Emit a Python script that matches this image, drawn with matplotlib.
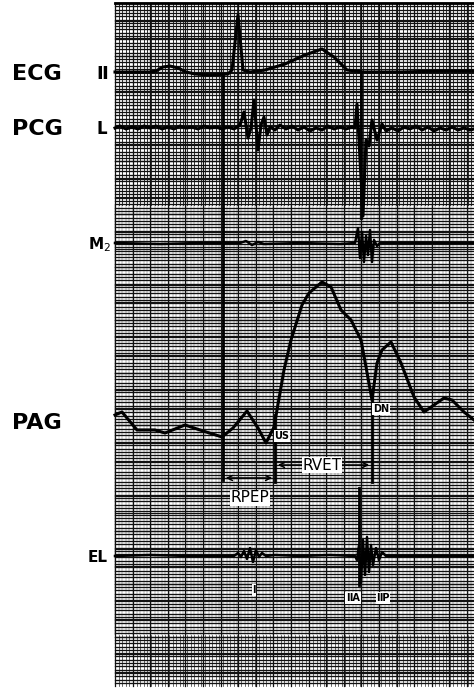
import numpy as np
import matplotlib
matplotlib.use("Agg")
import matplotlib.pyplot as plt

# traces (x = time position, y = deflection, picture units)
ecg_x = [115, 150, 156, 163, 170, 178, 186, 195, 210, 228, 232, 238, 243, 250, 265, 285, 305, 322, 334, 347, 364, 400, 440, 474]
ecg_y = [72, 72, 71, 67, 66, 68, 72, 74, 75, 74, 70, 15, 70, 72, 70, 64, 55, 49, 57, 70, 72, 72, 71, 71]

pcg_x = [115, 120, 126, 132, 138, 144, 150, 156, 162, 168, 174, 180, 186, 192, 198, 204, 210, 216,
         222, 228, 234, 240, 244, 248, 251, 254, 258, 261, 264, 267, 270, 275, 280, 286, 292, 298,
         304, 310, 316, 322, 328, 334, 340, 346, 352, 355, 357, 359, 363, 366, 369, 372, 377, 382,
         386, 392, 398, 404, 410, 416, 422, 428, 434, 440, 446, 452, 458, 464, 470, 474]
pcg_y = [128, 126, 129, 127, 129, 126, 128, 126, 129, 127, 129, 126, 128, 127, 129, 126, 128, 127,
         129, 127, 129, 125, 112, 138, 128, 100, 150, 125, 117, 135, 127, 130, 125, 129, 126, 130,
         127, 131, 128, 130, 126, 129, 127, 129, 127, 128, 104, 140, 216, 140, 146, 120, 140, 124,
         131, 128, 131, 127, 129, 126, 130, 127, 131, 128, 130, 127, 130, 128, 130, 129]

m2_x = [115, 160, 200, 240, 246, 252, 258, 264, 300, 340, 355, 358, 360, 362, 364, 366, 368, 370, 372, 374, 377, 380, 420, 474]
m2_y = [243, 244, 243, 243, 241, 245, 242, 244, 243, 244, 243, 228, 258, 232, 262, 236, 255, 230, 262, 240, 246, 243, 243, 243]

pag_x = [115, 122, 137, 155, 165, 185, 200, 222, 233, 247, 258, 266, 274, 284, 291, 302, 309, 322,
         331, 341, 351, 361, 366, 372, 377, 382, 391, 401, 414, 424, 434, 444, 452, 464, 474]
pag_y = [415, 412, 430, 430, 433, 425, 430, 437, 428, 411, 428, 443, 427, 370, 340, 305, 293, 282,
         287, 310, 320, 340, 367, 400, 363, 350, 342, 363, 397, 412, 405, 398, 400, 412, 420]

el_x = [115, 150, 190, 234, 238, 241, 244, 247, 250, 253, 256, 259, 262, 266, 275, 300, 330, 355,
        357, 359, 361, 363, 365, 367, 369, 371, 373, 376, 379, 382, 386, 420, 474]
el_y = [556, 555, 556, 556, 553, 557, 551, 559, 548, 562, 550, 557, 553, 556, 555, 556, 555, 556,
        560, 545, 583, 540, 575, 537, 572, 545, 565, 548, 560, 552, 556, 556, 556]

# timing markers: x, top, bottom
marker_x = [223, 275, 372, 361, 359]
marker_top = [74, 415, 398, 72, 488]
marker_bot = [480, 482, 482, 218, 585]

channel_names = ["ECG", "PCG", "M", "PAG", "EL"]

fig = plt.figure(figsize=(4.74, 6.88), dpi=100)
ax = fig.add_axes([0, 0, 1, 1])
ax.set_xlim(0, 474)
ax.set_ylim(688, 0)
ax.axis("off")

# chart paper
x0, x1, y0, y1 = 115, 474, 3, 686
ink = "#111111"
for y in np.arange(y0, y1, 3.3):
    ax.plot([x0, x1], [y, y], color=ink, lw=0.95, zorder=1)
for x in np.arange(x0, x1, 3.6):
    ax.plot([x, x], [y0, 205], color=ink, lw=0.6, zorder=1)
    ax.plot([x, x], [205, 635], color=ink, lw=0.22, zorder=1)
    ax.plot([x, x], [635, y1], color=ink, lw=0.45, zorder=1)
for x in np.arange(x0, x1 + 1, 17.6):
    ax.plot([x, x], [y0, y1], color=ink, lw=0.9, zorder=1)
for y in np.arange(y0, y1, 17.6):
    ax.plot([x0, x1], [y, y], color=ink, lw=0.9, zorder=1)
ax.plot([x0, x1], [y0, y0], color="black", lw=2, zorder=1)

trace = dict(color="black", lw=2.2, zorder=3, solid_joinstyle="round")
ax.plot(ecg_x, ecg_y, **trace)
ax.plot(pcg_x, pcg_y, **trace)
ax.plot(m2_x, m2_y, color="black", lw=1.8, zorder=3)
ax.plot(pag_x, pag_y, **trace)
ax.plot(el_x, el_y, color="black", lw=1.8, zorder=3)
for mx, t, b in zip(marker_x, marker_top, marker_bot):
    ax.plot([mx, mx], [t, b], color="black", lw=2.0, zorder=3)

# interval arrows
arr = dict(arrowstyle="<->", color="black", lw=1.1, mutation_scale=9)
ax.annotate("", xy=(223, 478), xytext=(275, 478), arrowprops=arr, zorder=4)
ax.annotate("", xy=(275, 465), xytext=(372, 465), arrowprops=arr, zorder=4)

lbl = dict(ha="center", va="center", color="black", zorder=5,
           bbox=dict(facecolor="white", edgecolor="none", pad=0.5))
ax.text(322, 465, "RVET", fontsize=11, **lbl)
ax.text(250, 498, "RPEP", fontsize=11, **lbl)
ax.text(282, 436, "US", fontsize=7, fontweight="bold", **lbl)
ax.text(381, 409, "DN", fontsize=7, fontweight="bold", **lbl)
ax.text(353, 598, "ⅡA", fontsize=7, fontweight="bold", **lbl)
ax.text(383, 598, "ⅡP", fontsize=7, fontweight="bold", **lbl)
ax.text(254, 590, "Ⅰ", fontsize=7, fontweight="bold", **lbl)

# channel names on the left
big = dict(fontsize=16, fontweight="heavy", va="center", ha="left", color="black")
ax.text(12, 74, channel_names[0], **big)
ax.text(96, 74, "Ⅱ", fontsize=13, fontweight="bold", va="center", ha="left")
ax.text(12, 129, channel_names[1], **big)
ax.text(97, 129, "L", fontsize=12, fontweight="bold", va="center", ha="left")
ax.text(88, 245, channel_names[2] + r"$_{2}$", fontsize=11, fontweight="bold", va="center", ha="left")
ax.text(12, 423, channel_names[3], **big)
ax.text(88, 557, channel_names[4], fontsize=11, fontweight="bold", va="center", ha="left")

fig.savefig("out.png", dpi=100)
